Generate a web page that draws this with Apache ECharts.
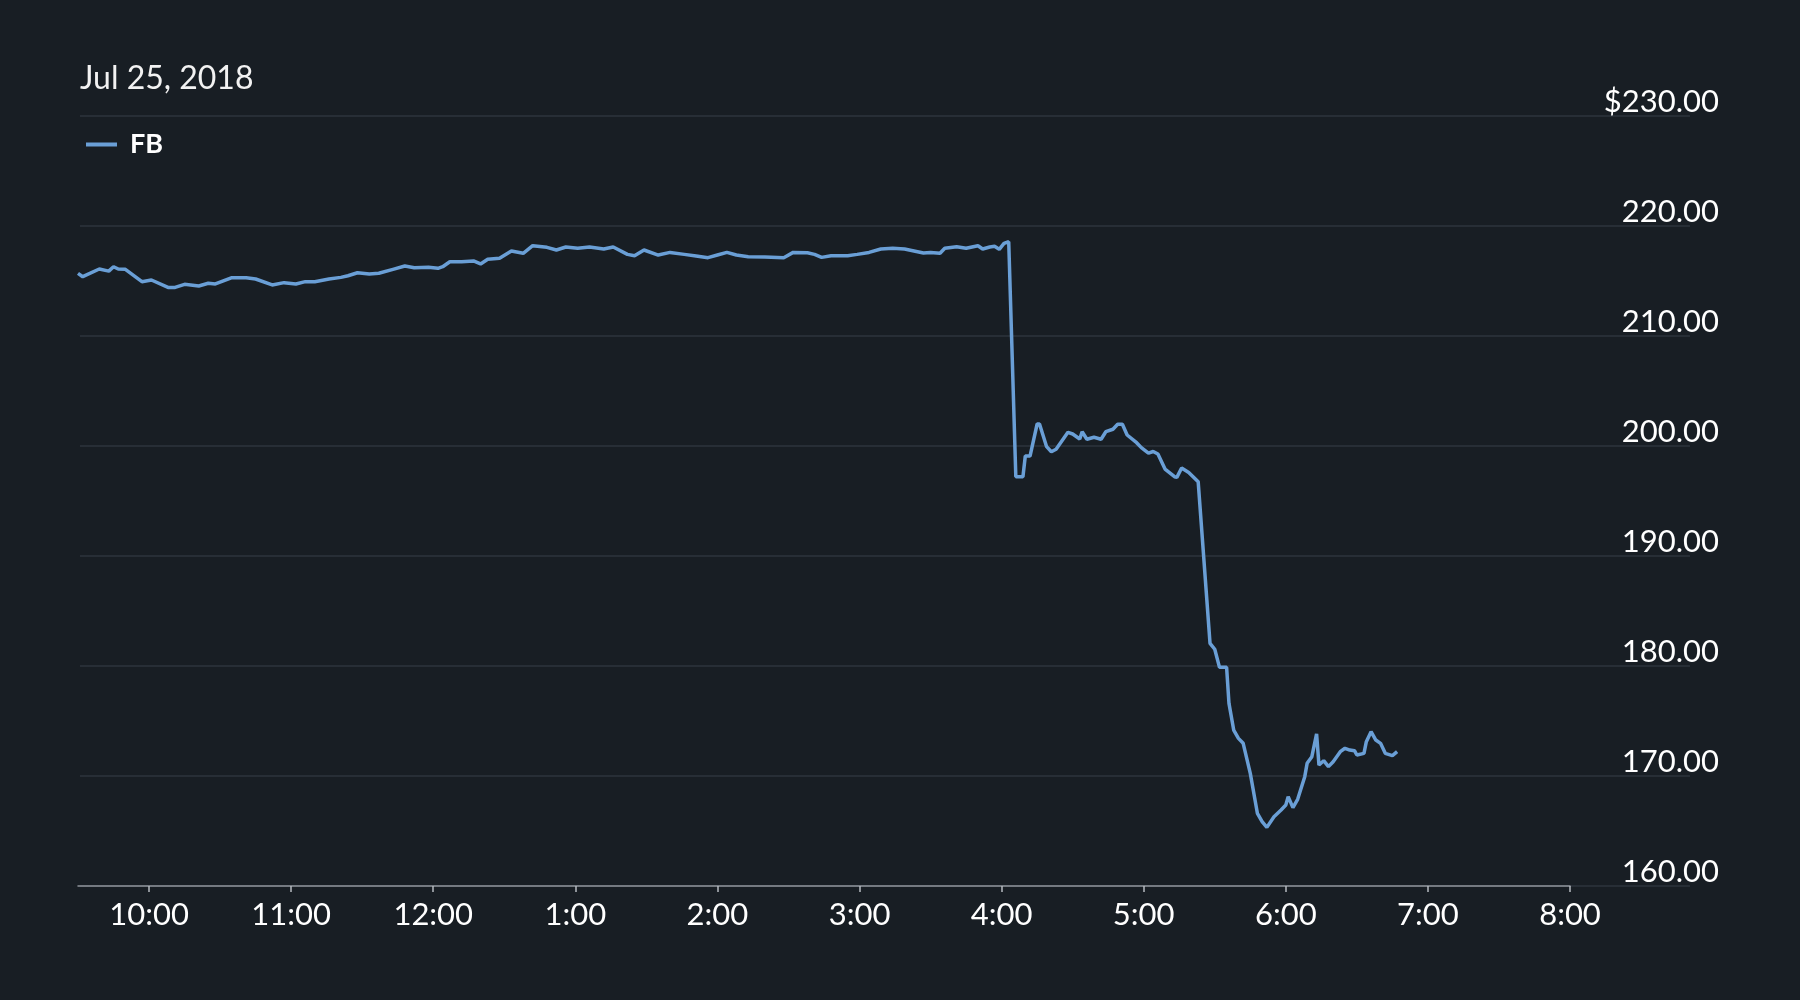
<!DOCTYPE html>
<html>
<head>
<meta charset="utf-8">
<title>FB Jul 25, 2018</title>
<script src="https://cdn.jsdelivr.net/npm/echarts@6/dist/echarts.min.js"></script>
<style>
  html, body { margin: 0; padding: 0; background: #181e24; }
  #chart { width: 1800px; height: 1000px; }
</style>
</head>
<body>
<div id="chart"></div>
<script>
// FB 25 Jul 2018, regular + after hours
var times = [
  '09:30','09:32','09:39','09:43','09:45','09:47','09:50','09:57','10:01','10:08',
  '10:11','10:15','10:21','10:25','10:28','10:35','10:41','10:45','10:52','10:57',
  '11:02','11:06','11:10','11:16','11:21','11:24','11:28','11:33','11:37','11:43',
  '11:48','11:52','11:58','12:02','12:04','12:07','12:12','12:17','12:20','12:23',
  '12:28','12:33','12:38','12:42','12:48','12:52','12:56','13:01','13:06','13:12',
  '13:16','13:22','13:25','13:29','13:35','13:40','13:46','13:51','13:56','14:00',
  '14:04','14:08','14:13','14:20','14:28','14:32','14:38','14:41','14:44','14:48',
  '14:55','14:59','15:04','15:09','15:14','15:19','15:23','15:27','15:30','15:34',
  '15:36','15:41','15:45','15:50','15:52','15:55','15:57','15:59','16:01','16:03',
  '16:06','16:09','16:10','16:12','16:15','16:16','16:19','16:21','16:23','16:28',
  '16:30','16:33','16:34','16:36','16:39','16:42','16:44','16:47','16:49','16:51',
  '16:53','16:57','16:59','17:02','17:04','17:06','17:09','17:13','17:14','17:16',
  '17:19','17:23','17:28','17:30','17:32','17:35','17:36','17:38','17:40','17:42',
  '17:45','17:48','17:50','17:52','17:55','17:58','18:00','18:01','18:03','18:05',
  '18:08','18:09','18:11','18:13','18:14','18:16','18:18','18:20','18:23','18:25',
  '18:27','18:29','18:30','18:33','18:34','18:36','18:38','18:40','18:42','18:45',
  '18:47'
];
var prices = [
  215.70,215.39,216.09,215.90,216.30,216.09,216.06,214.94,215.09,214.42,
  214.42,214.70,214.55,214.79,214.73,215.30,215.30,215.18,214.64,214.85,
  214.73,214.94,214.94,215.18,215.33,215.48,215.75,215.64,215.70,216.06,
  216.36,216.21,216.24,216.15,216.30,216.75,216.75,216.82,216.55,216.97,
  217.06,217.73,217.52,218.21,218.06,217.82,218.09,217.97,218.09,217.91,
  218.09,217.42,217.30,217.82,217.36,217.60,217.42,217.27,217.12,217.36,
  217.60,217.36,217.21,217.18,217.12,217.60,217.57,217.42,217.15,217.30,
  217.30,217.42,217.60,217.91,217.97,217.91,217.73,217.55,217.60,217.52,
  217.97,218.12,217.97,218.21,217.91,218.09,218.15,217.88,218.42,218.57,
  197.21,197.21,199.09,199.09,202.00,202.00,199.94,199.48,199.70,201.24,
  201.09,200.64,201.30,200.61,200.79,200.61,201.30,201.52,201.97,201.97,
  201.00,200.30,199.85,199.35,199.50,199.27,197.90,197.21,197.15,198.00,
  197.60,196.75,182.06,181.52,179.88,179.88,176.60,174.18,173.42,172.97,
  170.24,166.61,165.85,165.33,166.30,166.91,167.36,168.12,167.12,167.88,
  169.94,171.15,171.76,173.82,171.00,171.39,170.85,171.30,172.21,172.52,
  172.36,172.30,171.91,172.06,173.12,174.03,173.27,172.97,172.06,171.85,
  172.21
];
var hourTicks = [10, 11, 12, 13, 14, 15, 16, 17, 18, 19, 20];
var priceTicks = [160, 170, 180, 190, 200, 210, 220, 230];

function toHours(s) {
  var p = s.split(':');
  return +p[0] + (+p[1]) / 60;
}
var seriesData = times.map(function (t, i) { return [toHours(t), prices[i]]; });

var chart = echarts.init(document.getElementById('chart'));
var font = 'Lato';

var option = {
  backgroundColor: '#181e24',
  animation: false,
  textStyle: { fontFamily: font },
  title: {
    text: 'Jul 25, 2018',
    left: 75,
    top: 58,
    textStyle: { color: '#f2f2f2', fontSize: 32, fontWeight: 'normal', fontFamily: font }
  },
  legend: {
    data: ['FB'],
    left: 81,
    top: 126,
    icon: 'rect',
    itemWidth: 31,
    itemHeight: 4,
    textStyle: { color: '#ffffff', fontSize: 27, fontWeight: 'bold', fontFamily: font, padding: [0, 0, 0, 8] }
  },
  grid: [
    // split lines + price labels, wider than the time axis
    { left: 80, right: 110, top: 116, bottom: 114 },
    // the line itself and the time axis
    { left: 78, right: 230, top: 116, bottom: 114 }
  ],
  xAxis: [
    { gridIndex: 0, type: 'value', min: 0, max: 1, show: false },
    {
      gridIndex: 1,
      type: 'value',
      min: 9.5,
      max: 20,
      axisLine: { show: true, lineStyle: { color: '#8e949b', width: 1.5 } },
      axisTick: { show: true, customValues: hourTicks, length: 6, lineStyle: { color: '#b5bac0', width: 1.5 } },
      axisLabel: {
        customValues: hourTicks,
        color: '#ffffff',
        fontSize: 31,
        fontFamily: font,
        margin: 13,
        formatter: function (v) { return ((v - 1) % 12 + 1) + ':00'; }
      },
      splitLine: { show: false }
    }
  ],
  yAxis: [
    {
      gridIndex: 0,
      type: 'value',
      position: 'right',
      min: 160,
      max: 230,
      interval: 10,
      axisLine: { show: false },
      axisTick: { show: false },
      axisLabel: {
        color: '#ffffff',
        fontSize: 31,
        lineHeight: 28,
        fontFamily: font,
        align: 'right',
        verticalAlign: 'bottom',
        margin: 29,
        formatter: function (v) {
          var s = v.toFixed(2);
          return v === priceTicks[priceTicks.length - 1] ? '$' + s : s;
        }
      },
      splitLine: { show: true, lineStyle: { color: '#2c343c', width: 1.5 } }
    },
    { gridIndex: 1, type: 'value', min: 160, max: 230, show: false }
  ],
  series: [
    {
      name: 'FB',
      type: 'line',
      xAxisIndex: 1,
      yAxisIndex: 1,
      showSymbol: false,
      data: seriesData,
      itemStyle: { color: '#6a9fd6' },
      lineStyle: { color: '#6a9fd6', width: 3.5 }
    }
  ]
};

chart.setOption(option);
window.addEventListener('resize', function () {
  chart.resize();
});
</script>
</body>
</html>
